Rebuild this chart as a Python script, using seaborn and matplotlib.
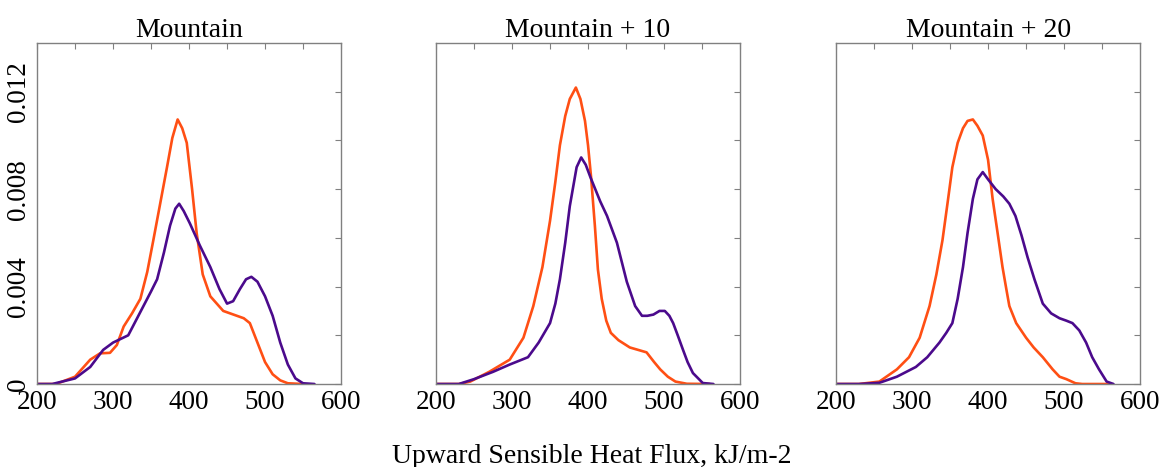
"""
Densités du flux de chaleur sensible montant - trois configurations de montagne
"""

import numpy as np
import pandas as pd
import matplotlib
matplotlib.use('Agg')
import matplotlib.pyplot as plt
import seaborn as sns

# =============================================================================
# DONNÉES
# =============================================================================

panel_titles = ["Mountain", "Mountain + 10", "Mountain + 20"]

# Mountain
m0_orange_x = [200, 225, 250, 270, 283, 296, 305, 314, 325, 336, 345, 353, 362, 371, 378, 385, 391,
               397, 404, 410, 418, 428, 445, 463, 472, 480, 490, 500, 510, 520, 530, 550]
m0_orange_y = [0, 0, 0.0003, 0.001, 0.00126, 0.00128, 0.0016, 0.00236, 0.0029, 0.0035, 0.0046, 0.0059,
               0.0074, 0.0089, 0.0101, 0.01086, 0.0105, 0.0099, 0.0080, 0.0062, 0.0045, 0.0036, 0.0030,
               0.0028, 0.0027, 0.0025, 0.0017, 0.0009, 0.0004, 0.00015, 0.00003, 0]
m0_purple_x = [200, 220, 250, 270, 287, 300, 310, 320, 330, 340, 350, 358, 367, 375, 382, 387, 393, 401,
               414, 428, 440, 450, 458, 467, 475, 482, 490, 500, 510, 520, 530, 540, 550, 565]
m0_purple_y = [0, 0, 0.00023, 0.0007, 0.0014, 0.0017, 0.00185, 0.0020, 0.0026, 0.0032, 0.0038, 0.0043,
               0.0054, 0.0065, 0.0072, 0.0074, 0.0071, 0.0066, 0.0057, 0.0048, 0.0039, 0.0033, 0.0034,
               0.0039, 0.0043, 0.0044, 0.0042, 0.0036, 0.0028, 0.0017, 0.0008, 0.00023, 0.00003, 0]

# Mountain + 10
m10_orange_x = [200, 230, 245, 270, 297, 315, 328, 340, 350, 357, 363, 370, 376, 384, 390, 396, 400,
                404, 409, 413, 418, 424, 430, 440, 455, 466, 477, 487, 495, 505, 515, 530, 560]
m10_orange_y = [0, 0, 0.0001, 0.0005, 0.001, 0.0019, 0.0032, 0.0048, 0.0067, 0.0083, 0.0098, 0.0110,
                0.0117, 0.01217, 0.0117, 0.0108, 0.0098, 0.0085, 0.0065, 0.0047, 0.0035, 0.0026, 0.0021,
                0.0018, 0.0015, 0.0014, 0.0013, 0.0009, 0.0006, 0.0003, 0.0001, 0.00001, 0]
m10_purple_x = [200, 230, 250, 275, 297, 321, 335, 350, 357, 363, 370, 376, 385, 391, 397, 403, 416,
                425, 438, 451, 462, 471, 478, 486, 494, 501, 507, 512, 518, 525, 531, 538, 551, 565]
m10_purple_y = [0, 0, 0.0002, 0.0005, 0.0008, 0.0011, 0.0017, 0.0025, 0.0033, 0.0043, 0.0058, 0.0073,
                0.0089, 0.0093, 0.0090, 0.0085, 0.0075, 0.0069, 0.0058, 0.0042, 0.0032, 0.0028, 0.0028,
                0.00285, 0.0030, 0.0030, 0.0028, 0.0025, 0.0020, 0.0014, 0.0009, 0.00045, 0.00004, 0]

# Mountain + 20
m20_orange_x = [200, 230, 257, 280, 296, 310, 323, 332, 340, 347, 353, 360, 367, 373, 380, 386, 393,
                400, 406, 413, 419, 424, 428, 437, 450, 460, 472, 485, 494, 503, 515, 524, 560]
m20_orange_y = [0, 0, 0.0001, 0.0006, 0.0011, 0.0019, 0.0032, 0.0045, 0.0059, 0.0075, 0.0089, 0.0099,
                0.0105, 0.0108, 0.01086, 0.0106, 0.0102, 0.0092, 0.0076, 0.0061, 0.0048, 0.0039, 0.0032,
                0.0025, 0.0019, 0.0015, 0.0011, 0.0006, 0.0003, 0.0002, 0.00003, 0, 0]
m20_purple_x = [200, 230, 257, 280, 305, 320, 336, 345, 353, 360, 367, 373, 380, 386, 393, 400, 410,
                420, 428, 436, 444, 452, 461, 472, 483, 494, 503, 511, 520, 529, 537, 546, 556, 565]
m20_purple_y = [0, 0, 0.00005, 0.0003, 0.0007, 0.0011, 0.0017, 0.0021, 0.0025, 0.0035, 0.0048, 0.0062,
                0.0076, 0.0084, 0.0087, 0.0084, 0.0080, 0.0077, 0.0074, 0.0069, 0.0061, 0.0052, 0.0043,
                0.0033, 0.0029, 0.0027, 0.0026, 0.0025, 0.0022, 0.0017, 0.0011, 0.0006, 0.0001, 0]

orange_curves = [(m0_orange_x, m0_orange_y), (m10_orange_x, m10_orange_y), (m20_orange_x, m20_orange_y)]
purple_curves = [(m0_purple_x, m0_purple_y), (m10_purple_x, m10_purple_y), (m20_purple_x, m20_purple_y)]

x_ticks = [200, 300, 400, 500, 600]
y_ticks = [0, 0.004, 0.008, 0.012]
y_tick_labels = ["0", "0.004", "0.008", "0.012"]

ORANGE = '#ff4f14'
PURPLE = '#4b0a8c'
FRAME = '#808080'

# =============================================================================
# FIGURE
# =============================================================================

sns.set_theme(style='white')
plt.rcParams['font.family'] = ['Liberation Serif', 'DejaVu Serif']
plt.rcParams['text.color'] = 'black'
plt.rcParams['xtick.labelcolor'] = 'black'
plt.rcParams['ytick.labelcolor'] = 'black'

fig = plt.figure(figsize=(11.68, 4.67), dpi=100)
lefts = [0.0317, 0.3733, 0.7158]

for i, title in enumerate(panel_titles):
    ax = fig.add_axes([lefts[i], 0.1777, 0.2603, 0.7303])

    ox, oy = orange_curves[i]
    px, py = purple_curves[i]
    sns.lineplot(x=ox, y=oy, ax=ax, color=ORANGE, linewidth=1.9, estimator=None, sort=False,
                 solid_joinstyle='round', solid_capstyle='round')
    sns.lineplot(x=px, y=py, ax=ax, color=PURPLE, linewidth=1.9, estimator=None, sort=False,
                 solid_joinstyle='round', solid_capstyle='round')

    ax.set_xlim(200, 600)
    ax.set_ylim(0, 0.014)
    ax.set_xticks(x_ticks)
    ax.set_xticks(np.arange(250, 600, 50), minor=True)
    ax.set_yticks(y_ticks)
    ax.set_yticks([0.002, 0.006, 0.010], minor=True)
    ax.set_xticklabels([str(t) for t in x_ticks], fontsize=19.5, color='black')

    if i == 0:
        ax.set_yticklabels(y_tick_labels, fontsize=19.5, rotation=90, va='center', color='black')
    else:
        ax.set_yticklabels([])

    ax.tick_params(which='both', direction='in', top=True, right=True,
                   length=4, width=0.8, color=FRAME)
    ax.tick_params(axis='x', which='major', pad=4)
    ax.tick_params(axis='y', which='major', pad=4)

    for sp in ax.spines.values():
        sp.set_color(FRAME)
        sp.set_linewidth(1.0)

    ax.set_xlabel('')
    ax.set_ylabel('')
    ax.set_title(title, fontsize=20, pad=4, color='black')

fig.text(0.507, 0.0086, 'Upward Sensible Heat Flux, kJ/m-2', ha='center', va='baseline',
         fontsize=20, color='black')

plt.savefig('out.png', dpi=100)
plt.close()
